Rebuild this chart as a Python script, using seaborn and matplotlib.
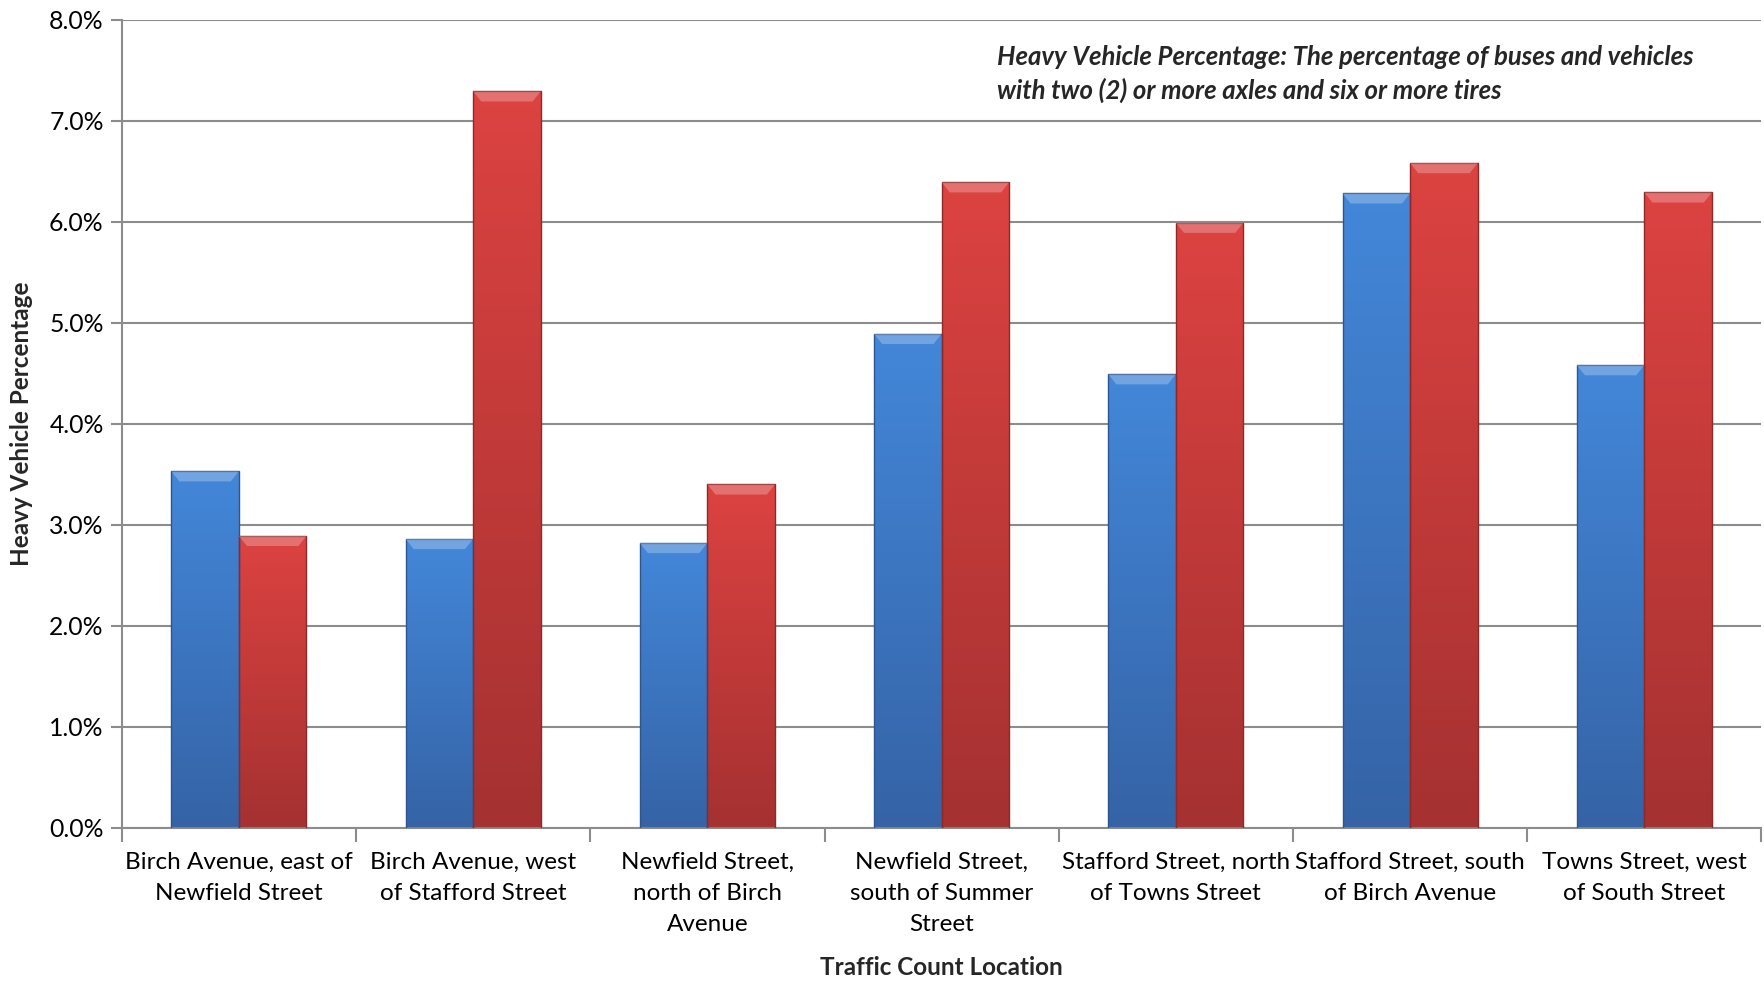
import numpy as np
import pandas as pd
import seaborn as sns
import matplotlib.pyplot as plt
from matplotlib.colors import LinearSegmentedColormap
from matplotlib.ticker import FuncFormatter, MultipleLocator

# Data
locations = [
    "Birch Avenue, east of\nNewfield Street",
    "Birch Avenue, west\nof Stafford Street",
    "Newfield Street,\nnorth of Birch\nAvenue",
    "Newfield Street,\nsouth of Summer\nStreet",
    "Stafford Street, north\nof Towns Street",
    "Stafford Street, south\nof Birch Avenue",
    "Towns Street, west\nof South Street",
]
series_names = ["Series 1", "Series 2"]
series_1 = [3.53, 2.86, 2.82, 4.89, 4.49, 6.28, 4.58]
series_2 = [2.89, 7.29, 3.40, 6.39, 5.99, 6.58, 6.29]

annotation = ("Heavy Vehicle Percentage: The percentage of buses and vehicles\n"
              "with two (2) or more axles and six or more tires")

df = pd.DataFrame({
    "location": locations * 2,
    "series": [series_names[0]] * len(locations) + [series_names[1]] * len(locations),
    "value": series_1 + series_2,
})

sns.set_theme(style="white")
plt.rcParams["font.family"] = ["Lato", "DejaVu Sans"]

fig = plt.figure(figsize=(17.65, 9.81), dpi=100)
ax = fig.add_axes([0.069, 0.156, 0.929, 0.824])

palette = {series_names[0]: "#3b78c8", series_names[1]: "#cc3c3a"}
sns.barplot(data=df, x="location", y="value", hue="series", order=locations,
            hue_order=series_names, palette=palette, width=0.577,
            legend=False, ax=ax, edgecolor="none", zorder=3)

# vertical gradient fill for each bar, clipped to the bar shape
grads = {
    series_names[0]: LinearSegmentedColormap.from_list("b", ["#3563a6", "#4387d9"]),
    series_names[1]: LinearSegmentedColormap.from_list("r", ["#a53131", "#dc4341"]),
}
edges = {series_names[0]: "#2d568f", series_names[1]: "#8f2828"}
n = len(locations)
for i, patch in enumerate(ax.patches[:2 * n]):
    name = series_names[i // n]
    x0, y0 = patch.get_x(), patch.get_y()
    w, h = patch.get_width(), patch.get_height()
    patch.set_facecolor("none")
    patch.set_edgecolor(edges[name])
    patch.set_linewidth(1.0)
    grad = np.linspace(0, 1, 256).reshape(-1, 1)
    img = ax.imshow(grad, cmap=grads[name], origin="lower", aspect="auto",
                    extent=[x0, x0 + w, y0, y0 + h], zorder=2.5)
    img.set_clip_path(patch)
    # light bevel at the top of the bar
    ax.fill([x0, x0 + w, x0 + w * 0.88, x0 + w * 0.12],
            [y0 + h, y0 + h, y0 + h - 0.1, y0 + h - 0.1],
            color="white", alpha=0.25, lw=0, zorder=3.2)

ax.set_xlim(-0.5, n - 0.5)
ax.set_ylim(0, 8)
ax.yaxis.set_major_locator(MultipleLocator(1))
ax.yaxis.set_major_formatter(FuncFormatter(lambda v, _: f"{v:.1f}%"))
ax.grid(axis="y", color="#8c8c8c", linewidth=1.5, zorder=0)
ax.set_axisbelow(True)

for s in ["top", "right"]:
    ax.spines[s].set_visible(False)
for s in ["left", "bottom"]:
    ax.spines[s].set_color("#8c8c8c")
    ax.spines[s].set_linewidth(1.5)

ax.tick_params(axis="y", left=True, length=8, width=1.5, color="#8c8c8c",
               labelsize=17.8, pad=5, labelcolor="black")
ax.tick_params(axis="x", which="major", bottom=False, length=0, labelsize=17.5,
               pad=17, labelcolor="black")
ax.set_xticks(np.arange(n + 1) - 0.5, minor=True)
ax.tick_params(axis="x", which="minor", bottom=True, length=10, width=1.5,
               color="#8c8c8c")
for lbl in ax.get_xticklabels():
    lbl.set_linespacing(1.6)

ax.set_xlabel("Traffic Count Location", fontsize=17.5, fontweight="bold")
ax.set_ylabel("Heavy Vehicle Percentage", fontsize=17.5, fontweight="bold")
ax.xaxis.set_label_coords(0.5, -0.158)
ax.yaxis.set_label_coords(-0.054, 0.5)

ax.text(0.534, 0.969, annotation, transform=ax.transAxes, ha="left", va="top",
        fontsize=18.5, fontweight="bold", fontstyle="italic", linespacing=1.45)

fig.savefig("out.png", dpi=100)
